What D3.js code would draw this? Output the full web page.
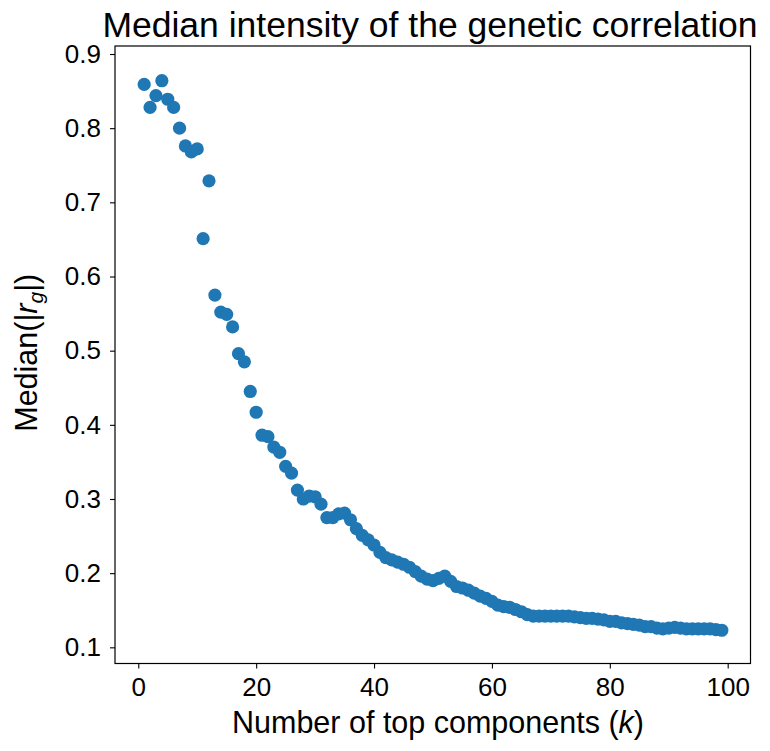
<!DOCTYPE html>
<html><head><meta charset="utf-8">
<script src="https://cdn.jsdelivr.net/npm/d3@7"></script>
<style>body{margin:0;background:#fff;} svg{display:block;} text{font-family:"Liberation Sans",Arial,Helvetica,sans-serif;fill:#000;}</style>
</head><body>
<svg id="c" width="770" height="751"></svg>
<script>
const components = d3.range(1, 100);
const medianRg = [
0.859,0.828,0.844,0.864,0.839,0.828,0.800,0.776,0.768,0.772,
0.651,0.729,0.575,0.552,0.549,0.532,0.496,0.485,0.445,0.417,
0.386,0.384,0.370,0.363,0.344,0.335,0.312,0.300,0.304,0.303,
0.293,0.275,0.275,0.280,0.281,0.272,0.260,0.251,0.245,0.238,
0.228,0.221,0.218,0.215,0.212,0.208,0.202,0.196,0.192,0.190,
0.193,0.196,0.189,0.182,0.180,0.177,0.173,0.169,0.166,0.162,
0.157,0.155,0.154,0.151,0.148,0.144,0.142,0.142,0.142,0.142,
0.142,0.142,0.142,0.141,0.140,0.139,0.139,0.138,0.137,0.135,
0.135,0.133,0.132,0.131,0.130,0.128,0.128,0.126,0.125,0.126,
0.127,0.126,0.125,0.125,0.125,0.125,0.125,0.124,0.123];
const xTicks = [0,20,40,60,80,100];
const yTicks = [0.1,0.2,0.3,0.4,0.5,0.6,0.7,0.8,0.9];

const L=115, R=750.5, T=46, B=663.5;
const svg = d3.select("#c");
const x = d3.scaleLinear().domain([-3.95, 103.87]).range([L, R]);
const y = d3.scaleLinear().domain([0.0782, 0.9108]).range([B, T]);

svg.append("g").selectAll("circle").data(components).join("circle")
  .attr("cx", (d)=>x(d)).attr("cy", (d,i)=>y(medianRg[i])).attr("r", 6.6)
  .attr("fill", "#1f77b4");

const xa = svg.append("g").attr("transform", `translate(0,${B})`)
  .call(d3.axisBottom(x).tickValues(xTicks).tickSize(5).tickPadding(5).tickFormat(d3.format("d")));
const ya = svg.append("g").attr("transform", `translate(${L},0)`)
  .call(d3.axisLeft(y).tickValues(yTicks).tickSize(5).tickPadding(9).tickFormat(d3.format(".1f")));
[xa, ya].forEach(a=>{
  a.select(".domain").remove();
  a.selectAll("line").attr("stroke","#000").attr("stroke-width",1.1);
  a.selectAll("text").attr("font-size",26).attr("font-family","Liberation Sans, Arial, sans-serif");
});
xa.selectAll("text").attr("dy","0.85em");

svg.append("rect").attr("x",L).attr("y",T).attr("width",R-L).attr("height",B-T)
  .attr("fill","none").attr("stroke","#000").attr("stroke-width",1.2);

svg.append("text").attr("x",430).attr("y",37).attr("text-anchor","middle")
  .attr("font-size",35.5).text("Median intensity of the genetic correlation");

const xl = svg.append("text").attr("x",438).attr("y",733).attr("text-anchor","middle").attr("font-size",30.5);
xl.append("tspan").text("Number of top components (");
xl.append("tspan").attr("font-style","italic").text("k");
xl.append("tspan").text(")");

const yl = svg.append("text").attr("transform",`translate(37,${(T+B)/2-2}) rotate(-90)`).attr("text-anchor","middle").attr("font-size",30.5);
yl.append("tspan").text("Median(|");
yl.append("tspan").attr("font-style","italic").text("r");
yl.append("tspan").attr("font-style","italic").attr("font-size",21).attr("dy",6).text("g");
yl.append("tspan").attr("dy",-6).text("|)");
</script>
</body></html>
